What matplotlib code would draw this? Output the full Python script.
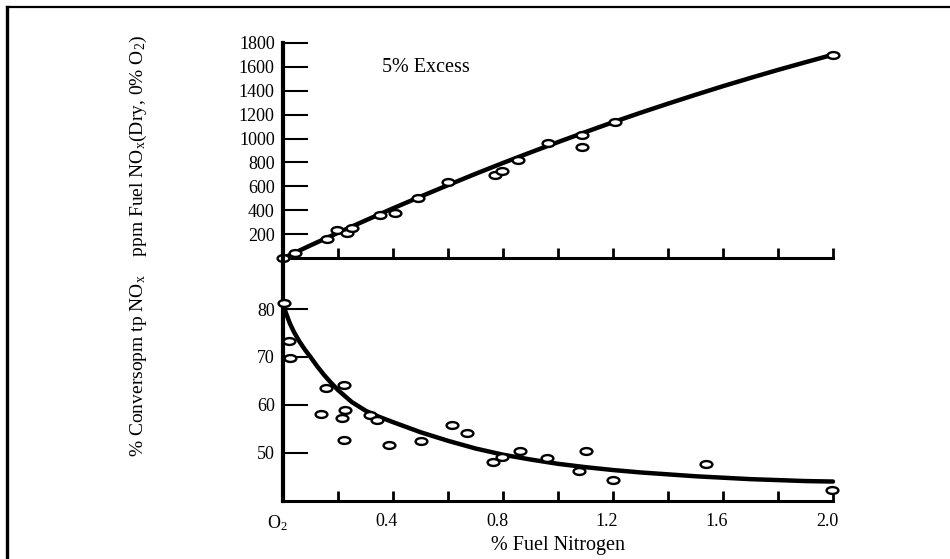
import matplotlib
matplotlib.use("Agg")
import matplotlib.pyplot as plt
from matplotlib.path import Path
from matplotlib.transforms import Affine2D, ScaledTranslation
from matplotlib.lines import Line2D

plt.rcParams['font.family'] = ['Liberation Serif', 'DejaVu Serif']
plt.rcParams['mathtext.fontset'] = 'custom'
plt.rcParams['mathtext.rm'] = 'Liberation Serif'
plt.rcParams['mathtext.it'] = 'Liberation Serif:italic'

# ---- data ----
top_x = [0.0, 0.044, 0.159, 0.195, 0.232, 0.25, 0.353, 0.407, 0.492, 0.601,
         0.771, 0.795, 0.856, 0.965, 1.086, 1.086, 1.207, 2.0]
top_y = [0, 48, 159, 240, 215, 253, 360, 382, 504, 633,
         694, 727, 819, 959, 1028, 931, 1140, 1700]
top_curve_x = [0.0, 0.1, 0.2, 0.3, 0.4, 0.5, 0.6, 0.7, 0.8, 0.9, 1.0, 1.1, 1.2,
               1.3, 1.4, 1.5, 1.6, 1.7, 1.8, 1.9, 2.0]
top_curve_y = [0, 108, 213, 316, 417, 515, 611, 705, 796, 884, 970, 1054, 1136,
               1215, 1291, 1365, 1437, 1506, 1573, 1637, 1700]

bot_x = [0.005, 0.023, 0.025, 0.156, 0.222, 0.137, 0.213, 0.225, 0.222, 0.316,
         0.343, 0.385, 0.5, 0.616, 0.668, 0.765, 0.795, 0.862, 0.959, 1.078,
         1.101, 1.201, 1.537, 1.995]
bot_y = [81.3, 73.3, 69.7, 63.5, 64.2, 58.1, 57.2, 59.0, 52.6, 57.9,
         56.9, 51.7, 52.5, 55.7, 54.2, 48.0, 49.2, 50.4, 49.0, 46.1,
         50.3, 44.4, 47.6, 42.3]
bot_curve_x = [0.0, 0.01, 0.025, 0.04, 0.06, 0.08, 0.1, 0.125, 0.15, 0.175, 0.2,
               0.25, 0.3, 0.35, 0.4, 0.5, 0.6, 0.7, 0.8, 0.9, 1.0, 1.1, 1.2,
               1.3, 1.4, 1.5, 1.6, 1.7, 1.8, 1.9, 2.0]
bot_curve_y = [81.0, 79.3, 77.0, 75.2, 73.2, 71.5, 70.0, 68.0, 66.2, 64.6, 63.1,
               60.6, 58.8, 57.5, 56.4, 54.3, 52.5, 50.9, 49.6, 48.6, 47.7, 47.0, 46.4,
               45.9, 45.5, 45.1, 44.8, 44.5, 44.3, 44.1, 44.0]

top_yticks = [200, 400, 600, 800, 1000, 1200, 1400, 1600, 1800]
bot_yticks = [50, 60, 70, 80]
x_minor = [0.2, 0.4, 0.6, 0.8, 1.0, 1.2, 1.4, 1.6, 1.8, 2.0]
x_label_pos = [0.0, 0.4, 0.8, 1.2, 1.6, 2.0]
x_label_txt = ['O$_2$', '0.4', '0.8', '1.2', '1.6', '2.0']

# ---- figure ----
W, H = 950, 559
fig = plt.figure(figsize=(W / 100, H / 100), dpi=100)
fig.patch.set_facecolor('white')

L, R = 283 / W, 833 / W
ax_top = fig.add_axes([L, 1 - 258.3 / H, R - L, (258.3 - 42.7) / H])
ax_bot = fig.add_axes([L, 1 - 500.7 / H, R - L, (500.7 - 258.3) / H])

ell = Path.unit_circle().transformed(Affine2D().scale(1.0, 0.58))

for ax in (ax_top, ax_bot):
    ax.set_xlim(0, 2.0)
    for s in ('top', 'right'):
        ax.spines[s].set_visible(False)
    ax.spines['left'].set_linewidth(3.0)
    ax.spines['bottom'].set_linewidth(2.2)
    ax.patch.set_alpha(0)

# top panel
ax_top.set_ylim(0, 1800)
ax_top.plot(top_curve_x, top_curve_y, color='black', lw=3.2, solid_capstyle='round',
            solid_joinstyle='round', zorder=3, clip_on=False)
ax_top.plot(top_x, top_y, linestyle='none', marker=ell, markersize=8.5,
            markerfacecolor='white', markeredgecolor='black', markeredgewidth=1.7,
            zorder=4, clip_on=False)
ax_top.set_yticks(top_yticks)
ax_top.set_yticklabels([str(v) for v in top_yticks])
ax_top.tick_params(axis='y', direction='in', length=18, width=1.5, pad=6, labelsize=13)
ax_top.set_xticks(x_minor)
ax_top.tick_params(axis='x', direction='in', length=7, width=2.0, labelbottom=False)
ax_top.text(0.36, 1590, '5% Excess', fontsize=14.5, ha='left', va='center')

# bottom panel
ax_bot.set_ylim(40, 90.6)
ax_bot.plot(bot_curve_x, bot_curve_y, color='black', lw=3.2, solid_capstyle='round',
            solid_joinstyle='round', zorder=3, clip_on=False)
ax_bot.plot(bot_x, bot_y, linestyle='none', marker=ell, markersize=8.5,
            markerfacecolor='white', markeredgecolor='black', markeredgewidth=1.7,
            zorder=4, clip_on=False)
ax_bot.set_yticks(bot_yticks)
ax_bot.set_yticklabels([str(v) for v in bot_yticks])
ax_bot.tick_params(axis='y', direction='in', length=18, width=1.5, pad=6, labelsize=13)
ax_bot.set_xticks(x_minor, minor=True)
ax_bot.set_xticks(x_label_pos)
ax_bot.set_xticklabels(x_label_txt)
ax_bot.tick_params(axis='x', which='both', direction='in', length=7, width=2.0, pad=9, labelsize=13)
ax_bot.set_xlabel('% Fuel Nitrogen', fontsize=14.5, labelpad=2)
for lab in ax_bot.get_xticklabels():
    lab.set_transform(lab.get_transform() + ScaledTranslation(-6 / 100, 0, fig.dpi_scale_trans))

# left label
fig.text(138 / W, 1 - 246 / H,
         r'% Conversopm tp NO$_{\mathrm{x}}$    ppm Fuel NO$_{\mathrm{x}}$(Dry, 0% O$_2$)',
         rotation=90, ha='center', va='center', fontsize=14)

# outer frame of the scanned page
fig.add_artist(Line2D([7 / W, 7 / W], [0, 1 - 7 / H], transform=fig.transFigure,
                      color='black', lw=2.4))
fig.add_artist(Line2D([7 / W, 1.0], [1 - 7 / H, 1 - 7 / H], transform=fig.transFigure,
                      color='black', lw=1.6))

fig.savefig('out.png', dpi=100, facecolor='white')
